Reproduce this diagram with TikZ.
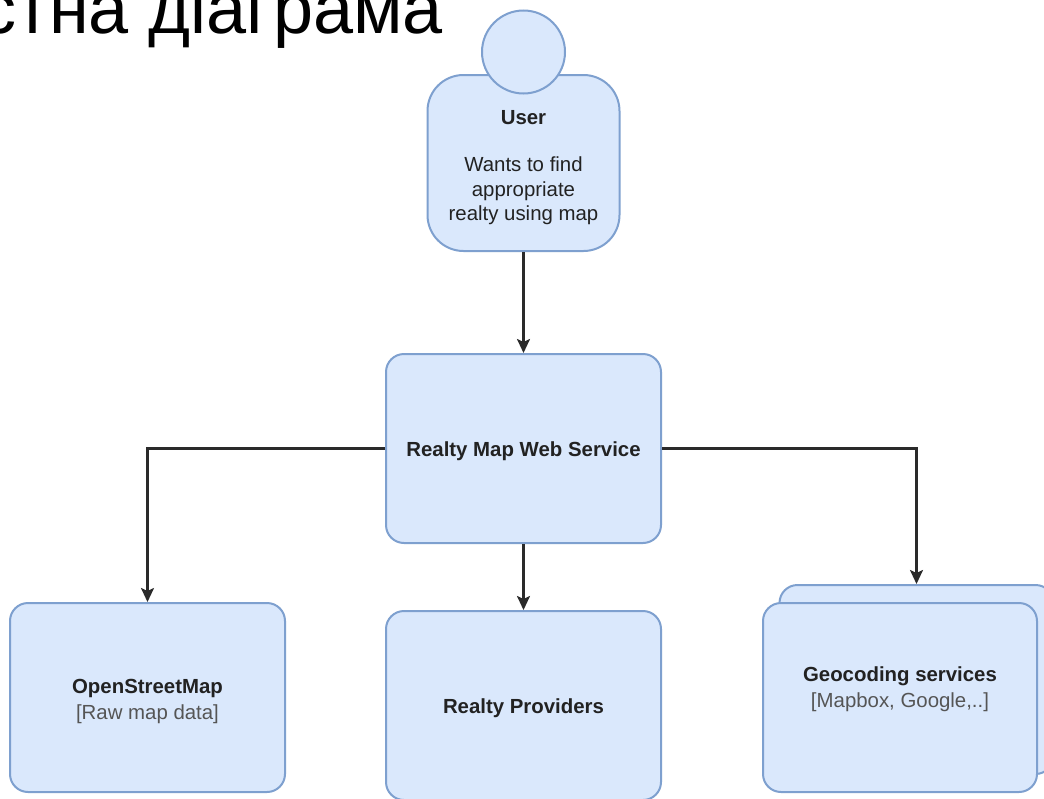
\documentclass[tikz,border=0pt]{standalone}
\usepackage{fontspec}
\setmainfont{Liberation Sans}
\usetikzlibrary{arrows.meta}
\definecolor{boxfill}{HTML}{DAE8FC}
\definecolor{boxline}{HTML}{7EA0CF}
\definecolor{linecol}{HTML}{2A2A2A}
\definecolor{titletext}{HTML}{222222}
\definecolor{subtext}{HTML}{555555}
\tikzset{
  box/.style={draw=boxline, fill=boxfill, line width=2pt, rounded corners=18pt, inner sep=0pt},
  lbl/.style={font=\fontsize{20.4}{26.5}\selectfont, text=titletext, align=center, inner sep=0pt},
  conn/.style={draw=linecol, line width=2.2pt, -{Stealth[length=14pt,width=13pt,inset=3pt]}},
}
\newcommand{\subtxt}[1]{{\color{subtext}#1}}
\begin{document}
\begin{tikzpicture}[x=1pt,y=-1pt]
\clip (0,0) rectangle (1044,798);
\fill[white] (0,0) rectangle (1044,798);
% title (cut off at top-left)
\node[anchor=base east, inner sep=0pt, font=\fontsize{72}{72}\selectfont] (title) at (443,33) {Контекстна діаграма};
% user (person shape)
\node[box, rounded corners=36pt, minimum width=192pt, minimum height=176pt] (user) at (523.5,163) {};
\node[box, circle, minimum size=83pt] (head) at (523.5,52) {};
\node[lbl, font=\fontsize{20.4}{24.5}\selectfont] (usertext) at (523.5,168) {\textbf{User}\\[22.5pt]Wants to find\\appropriate\\realty using map};
% central service
\node[box, minimum width=275pt, minimum height=189pt] (svc) at (523.5,448.5) {};
\node[lbl] (svctext) at (523.5,451) {\textbf{Realty Map Web Service}};
% OpenStreetMap
\node[box, minimum width=275pt, minimum height=189pt] (osm) at (147.5,697.5) {};
\node[lbl] (osmtext) at (147.5,701.5) {\textbf{OpenStreetMap}\\\subtxt{[Raw map data]}};
% Realty providers
\node[box, minimum width=275pt, minimum height=189pt] (prov) at (523.5,705.5) {};
\node[lbl] (provtext) at (523.5,708) {\textbf{Realty Providers}};
% Geocoding services (stacked)
\node[box, minimum width=274pt, minimum height=189pt] (geoback) at (916.5,679.5) {};
\node[box, minimum width=274pt, minimum height=189pt] (geo) at (900,697.5) {};
\node[lbl] (geotext) at (900,689) {\textbf{Geocoding services}\\\subtxt{[Mapbox, Google,..]}};
% connectors
\draw[conn] (user.south) -- (svc.north);
\draw[conn] (svc.west) -| (osm.north);
\draw[conn] (svc.south) -- (prov.north);
\draw[conn] (svc.east) -| (geoback.north);
\end{tikzpicture}
\end{document}
